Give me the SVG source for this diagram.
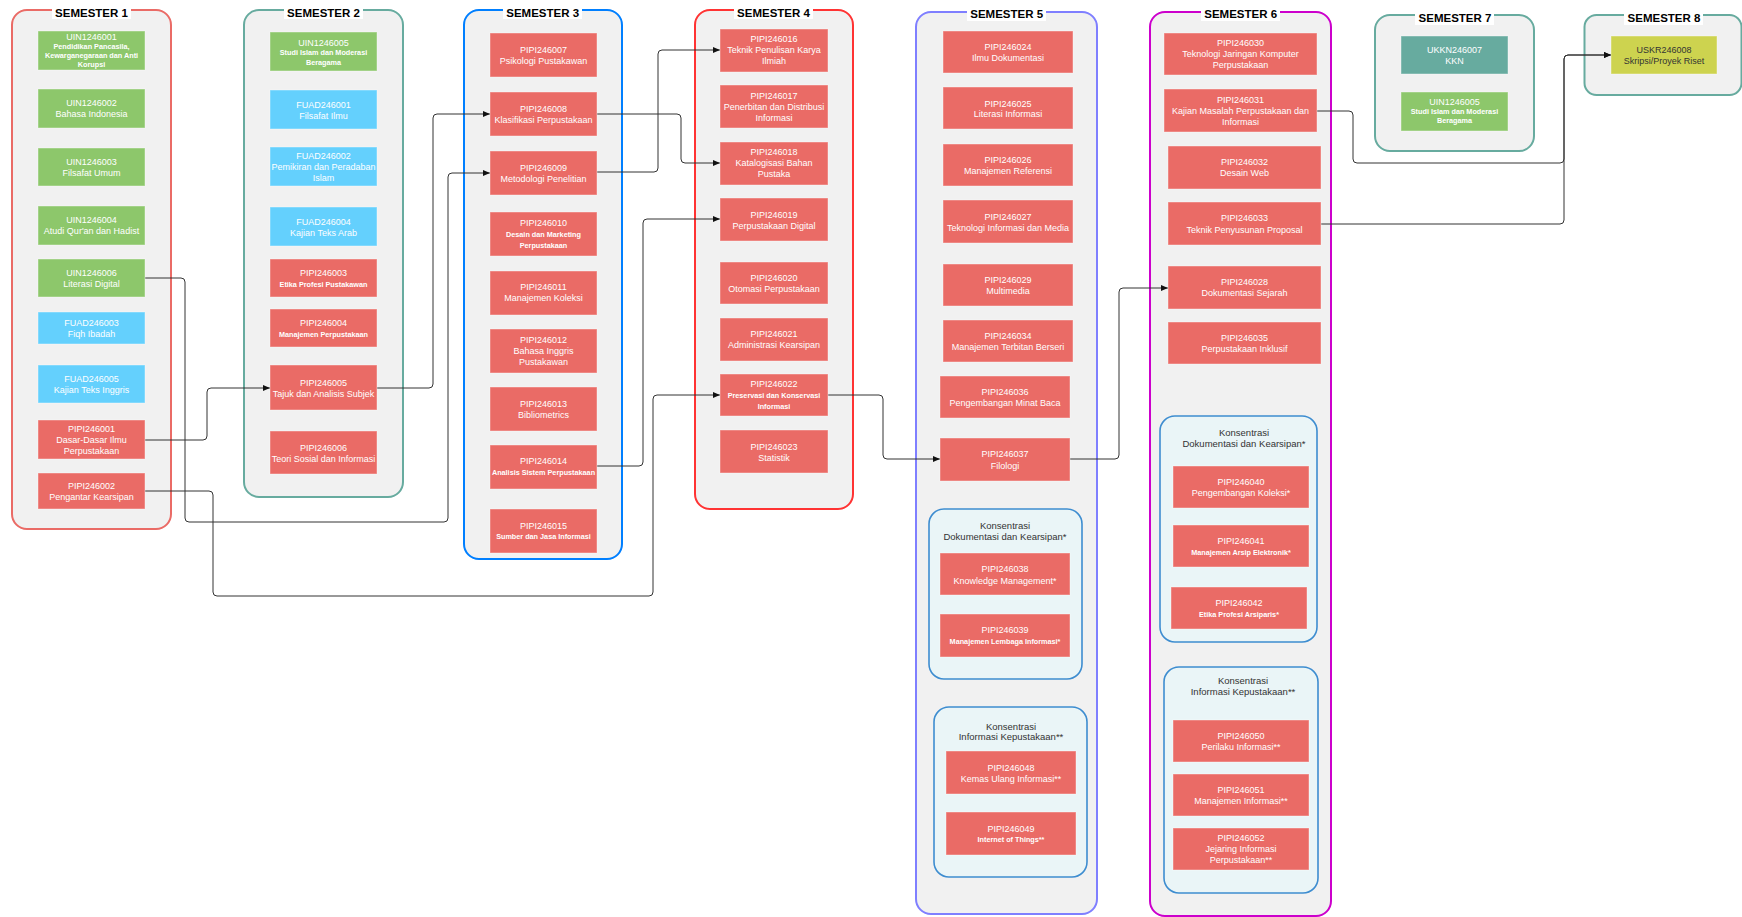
<svg xmlns="http://www.w3.org/2000/svg" width="1742" height="917" viewBox="0 0 1742 917">
<style>
.cont{fill:#F1F1F1;stroke-width:2}
.kon{fill:#EAF5F7;stroke:#3E8DD0;stroke-width:1.6}
.n rect{stroke:#ffffff;stroke-opacity:.4;stroke-width:1}
.r rect{fill:#EA6B66}
.g rect{fill:#8DC76B}
.b rect{fill:#64D0FD}
.t rect{fill:#67AB9F}
.y rect{fill:#CDD34F}
.n text{font-family:'Liberation Sans',Arial,Helvetica,sans-serif;font-size:9px;fill:#fff;text-anchor:middle}
.y text{fill:#333}
.n text .s{font-size:7.25px;font-weight:bold}
.title{font-family:'Liberation Sans',Arial,Helvetica,sans-serif;font-size:11.5px;font-weight:bold;fill:#000;text-anchor:middle}
.tbg{fill:#fff}
.kt{font-family:'Liberation Sans',Arial,Helvetica,sans-serif;font-size:9.5px;fill:#333;text-anchor:middle}
.edge{fill:none;stroke:#333;stroke-width:1}
</style>
<defs>
<marker id="ah" markerUnits="userSpaceOnUse" markerWidth="8" markerHeight="7" refX="7" refY="3" orient="auto">
<path d="M0,0 L7,3 L0,6 z" fill="#111"/>
</marker>
</defs>

<g id="semester-containers">
<g id="sem1"><rect class="cont" x="12" y="10" width="159" height="519" rx="15" stroke="#EA6B66"/><rect class="tbg" x="52" y="6" width="79" height="13"/><text class="title" x="91.5" y="16.8">SEMESTER 1</text></g>
<g id="sem2"><rect class="cont" x="244" y="10" width="159" height="487" rx="15" stroke="#67AB9F"/><rect class="tbg" x="284" y="6" width="79" height="13"/><text class="title" x="323.5" y="16.8">SEMESTER 2</text></g>
<g id="sem3"><rect class="cont" x="464" y="10" width="158" height="549" rx="15" stroke="#007FFF"/><rect class="tbg" x="503" y="6" width="79" height="13"/><text class="title" x="542.7" y="16.8">SEMESTER 3</text></g>
<g id="sem4"><rect class="cont" x="695" y="10" width="158" height="499" rx="15" stroke="#FF3333"/><rect class="tbg" x="734" y="6" width="79" height="13"/><text class="title" x="773.5" y="16.8">SEMESTER 4</text></g>
<g id="sem5"><rect class="cont" x="916" y="12" width="181" height="902" rx="15" stroke="#7F7FFF"/><rect class="tbg" x="967" y="8" width="79" height="13"/><text class="title" x="1006.7" y="18.4">SEMESTER 5</text></g>
<g id="sem6"><rect class="cont" x="1150" y="12" width="181" height="904" rx="15" stroke="#CC00CC"/><rect class="tbg" x="1201" y="8" width="79" height="13"/><text class="title" x="1240.7" y="18.4">SEMESTER 6</text></g>
<g id="sem7"><rect class="cont" x="1375" y="15" width="159" height="136" rx="15" stroke="#67AB9F"/><rect class="tbg" x="1415" y="12" width="79" height="13"/><text class="title" x="1455" y="22.4">SEMESTER 7</text></g>
<g id="sem8"><rect class="cont" x="1584.5" y="15" width="157" height="80" rx="12" stroke="#67AB9F"/><rect class="tbg" x="1624" y="12" width="79" height="13"/><text class="title" x="1664" y="22.2">SEMESTER 8</text></g>
</g>

<g id="konsentrasi">
<g id="kon5a"><rect class="kon" x="929" y="509" width="153" height="170" rx="15"/><text class="kt" x="1005" y="529.1">Konsentrasi</text><text class="kt" x="1005" y="540.1">Dokumentasi dan Kearsipan*</text></g>
<g id="kon5b"><rect class="kon" x="934" y="707" width="153" height="170" rx="15"/><text class="kt" x="1011" y="729.7">Konsentrasi</text><text class="kt" x="1011" y="740.4">Informasi Kepustakaan**</text></g>
<g id="kon6a"><rect class="kon" x="1160" y="416" width="157" height="226" rx="15"/><text class="kt" x="1244" y="436.1">Konsentrasi</text><text class="kt" x="1244" y="447.1">Dokumentasi dan Kearsipan*</text></g>
<g id="kon6b"><rect class="kon" x="1164" y="667" width="154" height="226" rx="15"/><text class="kt" x="1243" y="684.4">Konsentrasi</text><text class="kt" x="1243" y="695.1">Informasi Kepustakaan**</text></g>
</g>

<g id="connectors">
<path class="edge" marker-end="url(#ah)" d="M145,278 H181 Q185,278 185,282 V518 Q185,522 189,522 H444 Q448,522 448,518 V177 Q448,173 452,173 H490"/>
<path class="edge" marker-end="url(#ah)" d="M145,440 H203 Q207,440 207,436 V392 Q207,388 211,388 H270"/>
<path class="edge" marker-end="url(#ah)" d="M145,491 H209 Q213,491 213,495 V592 Q213,596 217,596 H649 Q653,596 653,592 V399 Q653,395 657,395 H720"/>
<path class="edge" marker-end="url(#ah)" d="M377,388 H429 Q433,388 433,384 V118 Q433,114 437,114 H490"/>
<path class="edge" marker-end="url(#ah)" d="M597,172 H654 Q658,172 658,168 V54 Q658,50 662,50 H720"/>
<path class="edge" marker-end="url(#ah)" d="M597,114 H677 Q681,114 681,118 V159 Q681,163 685,163 H720"/>
<path class="edge" marker-end="url(#ah)" d="M597,466 H639 Q643,466 643,462 V223 Q643,219 647,219 H720"/>
<path class="edge" marker-end="url(#ah)" d="M828,395 H879 Q883,395 883,399 V455 Q883,459 887,459 H940"/>
<path class="edge" marker-end="url(#ah)" d="M1070,459 H1115 Q1119,459 1119,455 V292 Q1119,288 1123,288 H1168"/>
<path class="edge" marker-end="url(#ah)" d="M1317,111 H1349 Q1353,111 1353,115 V159 Q1353,163 1357,163 H1560 Q1564,163 1564,159 V59 Q1564,55 1568,55 H1611"/>
<path class="edge" marker-end="url(#ah)" d="M1321,224 H1560 Q1564,224 1564,220 V59 Q1564,55 1568,55 H1611"/>
</g>

<g id="UIN1246001" class="n g"><rect x="38" y="31" width="107" height="39"/><text><tspan x="91.5" y="39.5">UIN1246001</tspan><tspan class="s" x="91.5" y="48.6">Pendidikan Pancasila,</tspan><tspan class="s" x="91.5" y="57.6">Kewarganegaraan dan Anti</tspan><tspan class="s" x="91.5" y="66.9">Korupsi</tspan></text></g>
<g id="UIN1246002" class="n g"><rect x="38" y="89" width="107" height="39"/><text><tspan x="91.5" y="106.2">UIN1246002</tspan><tspan x="91.5" y="117.2">Bahasa Indonesia</tspan></text></g>
<g id="UIN1246003" class="n g"><rect x="38" y="148" width="107" height="38"/><text><tspan x="91.5" y="164.9">UIN1246003</tspan><tspan x="91.5" y="175.9">Filsafat Umum</tspan></text></g>
<g id="UIN1246004" class="n g"><rect x="38" y="206" width="107" height="39"/><text><tspan x="91.5" y="223.2">UIN1246004</tspan><tspan x="91.5" y="234.2">Atudi Qur'an dan Hadist</tspan></text></g>
<g id="UIN1246006" class="n g"><rect x="38" y="259" width="107" height="38"/><text><tspan x="91.5" y="275.9">UIN1246006</tspan><tspan x="91.5" y="287.2">Literasi Digital</tspan></text></g>
<g id="FUAD246003" class="n b"><rect x="38" y="312" width="107" height="32"/><text><tspan x="91.5" y="325.9">FUAD246003</tspan><tspan x="91.5" y="336.9">Fiqh Ibadah</tspan></text></g>
<g id="FUAD246005" class="n b"><rect x="38" y="365" width="107" height="38"/><text><tspan x="91.5" y="381.5">FUAD246005</tspan><tspan x="91.5" y="392.9">Kajian Teks Inggris</tspan></text></g>
<g id="PIPI246001" class="n r"><rect x="38" y="420" width="107" height="39"/><text><tspan x="91.5" y="431.9">PIPI246001</tspan><tspan x="91.5" y="442.9">Dasar-Dasar Ilmu</tspan><tspan x="91.5" y="453.9">Perpustakaan</tspan></text></g>
<g id="PIPI246002" class="n r"><rect x="38" y="473" width="107" height="36"/><text><tspan x="91.5" y="488.9">PIPI246002</tspan><tspan x="91.5" y="500.2">Pengantar Kearsipan</tspan></text></g>

<g id="UIN1246005" class="n g"><rect x="270" y="32" width="107" height="39"/><text><tspan x="323.5" y="45.9">UIN1246005</tspan><tspan class="s" x="323.5" y="55.3">Studi Islam dan Moderasi</tspan><tspan class="s" x="323.5" y="64.6">Beragama</tspan></text></g>
<g id="FUAD246001" class="n b"><rect x="270" y="90" width="107" height="39"/><text><tspan x="323.5" y="107.5">FUAD246001</tspan><tspan x="323.5" y="118.5">Filsafat Ilmu</tspan></text></g>
<g id="FUAD246002" class="n b"><rect x="270" y="147" width="107" height="39"/><text><tspan x="323.5" y="158.9">FUAD246002</tspan><tspan x="323.5" y="169.9">Pemikiran dan Peradaban</tspan><tspan x="323.5" y="180.9">Islam</tspan></text></g>
<g id="FUAD246004" class="n b"><rect x="270" y="207" width="107" height="39"/><text><tspan x="323.5" y="224.5">FUAD246004</tspan><tspan x="323.5" y="235.5">Kajian Teks Arab</tspan></text></g>
<g id="PIPI246003" class="n r"><rect x="270" y="259" width="107" height="38"/><text><tspan x="323.5" y="275.9">PIPI246003</tspan><tspan class="s" x="323.5" y="286.6">Etika Profesi Pustakawan</tspan></text></g>
<g id="PIPI246004" class="n r"><rect x="270" y="309" width="107" height="38"/><text><tspan x="323.5" y="325.9">PIPI246004</tspan><tspan class="s" x="323.5" y="336.6">Manajemen Perpustakaan</tspan></text></g>
<g id="PIPI246005" class="n r"><rect x="270" y="365" width="107" height="45"/><text><tspan x="323.5" y="385.5">PIPI246005</tspan><tspan x="323.5" y="396.9">Tajuk dan Analisis Subjek</tspan></text></g>
<g id="PIPI246006" class="n r"><rect x="270" y="431" width="107" height="43"/><text><tspan x="323.5" y="450.5">PIPI246006</tspan><tspan x="323.5" y="461.9">Teori Sosial dan Informasi</tspan></text></g>

<g id="PIPI246007" class="n r"><rect x="490" y="33" width="107" height="44"/><text><tspan x="543.5" y="52.9">PIPI246007</tspan><tspan x="543.5" y="64.2">Psikologi Pustakawan</tspan></text></g>
<g id="PIPI246008" class="n r"><rect x="490" y="92" width="107" height="44"/><text><tspan x="543.5" y="111.9">PIPI246008</tspan><tspan x="543.5" y="123.2">Klasifikasi Perpustakaan</tspan></text></g>
<g id="PIPI246009" class="n r"><rect x="490" y="151" width="107" height="44"/><text><tspan x="543.5" y="170.5">PIPI246009</tspan><tspan x="543.5" y="181.9">Metodologi Penelitian</tspan></text></g>
<g id="PIPI246010" class="n r"><rect x="490" y="212" width="107" height="44"/><text><tspan x="543.5" y="225.9">PIPI246010</tspan><tspan class="s" x="543.5" y="236.6">Desain dan Marketing</tspan><tspan class="s" x="543.5" y="247.6">Perpustakaan</tspan></text></g>
<g id="PIPI246011" class="n r"><rect x="490" y="271" width="107" height="44"/><text><tspan x="543.5" y="290.2">PIPI246011</tspan><tspan x="543.5" y="301.2">Manajemen Koleksi</tspan></text></g>
<g id="PIPI246012" class="n r"><rect x="490" y="329" width="107" height="44"/><text><tspan x="543.5" y="342.9">PIPI246012</tspan><tspan x="543.5" y="354.2">Bahasa Inggris</tspan><tspan x="543.5" y="364.9">Pustakawan</tspan></text></g>
<g id="PIPI246013" class="n r"><rect x="490" y="387" width="107" height="44"/><text><tspan x="543.5" y="406.5">PIPI246013</tspan><tspan x="543.5" y="417.5">Bibliometrics</tspan></text></g>
<g id="PIPI246014" class="n r"><rect x="490" y="445" width="107" height="44"/><text><tspan x="543.5" y="464.2">PIPI246014</tspan><tspan class="s" x="543.5" y="475.3">Analisis Sistem Perpustakaan</tspan></text></g>
<g id="PIPI246015" class="n r"><rect x="490" y="509" width="107" height="44"/><text><tspan x="543.5" y="528.5">PIPI246015</tspan><tspan class="s" x="543.5" y="539.3">Sumber dan Jasa Informasi</tspan></text></g>

<g id="PIPI246016" class="n r"><rect x="720" y="29" width="108" height="43"/><text><tspan x="774" y="41.9">PIPI246016</tspan><tspan x="774" y="53.2">Teknik Penulisan Karya</tspan><tspan x="774" y="63.9">Ilmiah</tspan></text></g>
<g id="PIPI246017" class="n r"><rect x="720" y="85" width="108" height="43"/><text><tspan x="774" y="98.5">PIPI246017</tspan><tspan x="774" y="109.5">Penerbitan dan Distribusi</tspan><tspan x="774" y="120.5">Informasi</tspan></text></g>
<g id="PIPI246018" class="n r"><rect x="720" y="142" width="108" height="43"/><text><tspan x="774" y="154.9">PIPI246018</tspan><tspan x="774" y="166.2">Katalogisasi Bahan</tspan><tspan x="774" y="176.9">Pustaka</tspan></text></g>
<g id="PIPI246019" class="n r"><rect x="720" y="198" width="108" height="43"/><text><tspan x="774" y="217.5">PIPI246019</tspan><tspan x="774" y="228.5">Perpustakaan Digital</tspan></text></g>
<g id="PIPI246020" class="n r"><rect x="720" y="262" width="108" height="42"/><text><tspan x="774" y="280.9">PIPI246020</tspan><tspan x="774" y="291.9">Otomasi Perpustakaan</tspan></text></g>
<g id="PIPI246021" class="n r"><rect x="720" y="318" width="108" height="43"/><text><tspan x="774" y="336.9">PIPI246021</tspan><tspan x="774" y="348.2">Administrasi Kearsipan</tspan></text></g>
<g id="PIPI246022" class="n r"><rect x="720" y="374" width="108" height="42"/><text><tspan x="774" y="387.2">PIPI246022</tspan><tspan class="s" x="774" y="397.6">Preservasi dan Konservasi</tspan><tspan class="s" x="774" y="408.9">Informasi</tspan></text></g>
<g id="PIPI246023" class="n r"><rect x="720" y="430" width="108" height="43"/><text><tspan x="774" y="449.5">PIPI246023</tspan><tspan x="774" y="460.5">Statistik</tspan></text></g>

<g id="PIPI246024" class="n r"><rect x="943" y="31" width="130" height="42"/><text><tspan x="1008" y="49.9">PIPI246024</tspan><tspan x="1008" y="60.9">Ilmu Dokumentasi</tspan></text></g>
<g id="PIPI246025" class="n r"><rect x="943" y="87" width="130" height="42"/><text><tspan x="1008" y="106.5">PIPI246025</tspan><tspan x="1008" y="117.2">Literasi Informasi</tspan></text></g>
<g id="PIPI246026" class="n r"><rect x="943" y="144" width="130" height="42"/><text><tspan x="1008" y="162.9">PIPI246026</tspan><tspan x="1008" y="173.9">Manajemen Referensi</tspan></text></g>
<g id="PIPI246027" class="n r"><rect x="943" y="200" width="130" height="43"/><text><tspan x="1008" y="219.5">PIPI246027</tspan><tspan x="1008" y="230.5">Teknologi Informasi dan Media</tspan></text></g>
<g id="PIPI246029" class="n r"><rect x="943" y="264" width="130" height="42"/><text><tspan x="1008" y="283.2">PIPI246029</tspan><tspan x="1008" y="294.2">Multimedia</tspan></text></g>
<g id="PIPI246034" class="n r"><rect x="943" y="320" width="130" height="42"/><text><tspan x="1008" y="338.9">PIPI246034</tspan><tspan x="1008" y="350.2">Manajemen Terbitan Berseri</tspan></text></g>
<g id="PIPI246036" class="n r"><rect x="940" y="376" width="130" height="42"/><text><tspan x="1005" y="394.9">PIPI246036</tspan><tspan x="1005" y="406.2">Pengembangan Minat Baca</tspan></text></g>
<g id="PIPI246037" class="n r"><rect x="940" y="438" width="130" height="43"/><text><tspan x="1005" y="457.2">PIPI246037</tspan><tspan x="1005" y="468.5">Filologi</tspan></text></g>
<g id="PIPI246038" class="n r"><rect x="940" y="553" width="130" height="42"/><text><tspan x="1005" y="572.2">PIPI246038</tspan><tspan x="1005" y="583.5">Knowledge Management*</tspan></text></g>
<g id="PIPI246039" class="n r"><rect x="940" y="614" width="130" height="43"/><text><tspan x="1005" y="633.2">PIPI246039</tspan><tspan class="s" x="1005" y="644.3">Manajemen Lembaga Informasi*</tspan></text></g>
<g id="PIPI246048" class="n r"><rect x="946" y="751" width="130" height="43"/><text><tspan x="1011" y="770.5">PIPI246048</tspan><tspan x="1011" y="781.5">Kemas Ulang Informasi**</tspan></text></g>
<g id="PIPI246049" class="n r"><rect x="946" y="812" width="130" height="43"/><text><tspan x="1011" y="831.5">PIPI246049</tspan><tspan class="s" x="1011" y="842.3">Internet of Things**</tspan></text></g>

<g id="PIPI246030" class="n r"><rect x="1164" y="33" width="153" height="42"/><text><tspan x="1240.5" y="45.9">PIPI246030</tspan><tspan x="1240.5" y="56.9">Teknologi Jaringan Komputer</tspan><tspan x="1240.5" y="67.9">Perpustakaan</tspan></text></g>
<g id="PIPI246031" class="n r"><rect x="1164" y="89" width="153" height="43"/><text><tspan x="1240.5" y="102.5">PIPI246031</tspan><tspan x="1240.5" y="113.5">Kajian Masalah Perpustakaan dan</tspan><tspan x="1240.5" y="124.5">Informasi</tspan></text></g>
<g id="PIPI246032" class="n r"><rect x="1168" y="146" width="153" height="43"/><text><tspan x="1244.5" y="164.9">PIPI246032</tspan><tspan x="1244.5" y="175.9">Desain Web</tspan></text></g>
<g id="PIPI246033" class="n r"><rect x="1168" y="202" width="153" height="43"/><text><tspan x="1244.5" y="221.2">PIPI246033</tspan><tspan x="1244.5" y="232.5">Teknik Penyusunan Proposal</tspan></text></g>
<g id="PIPI246028" class="n r"><rect x="1168" y="266" width="153" height="43"/><text><tspan x="1244.5" y="284.9">PIPI246028</tspan><tspan x="1244.5" y="295.9">Dokumentasi Sejarah</tspan></text></g>
<g id="PIPI246035" class="n r"><rect x="1168" y="322" width="153" height="42"/><text><tspan x="1244.5" y="340.9">PIPI246035</tspan><tspan x="1244.5" y="351.9">Perpustakaan Inklusif</tspan></text></g>
<g id="PIPI246040" class="n r"><rect x="1173" y="466" width="136" height="42"/><text><tspan x="1241" y="485.2">PIPI246040</tspan><tspan x="1241" y="496.2">Pengembangan Koleksi*</tspan></text></g>
<g id="PIPI246041" class="n r"><rect x="1173" y="525" width="136" height="42"/><text><tspan x="1241" y="543.5">PIPI246041</tspan><tspan class="s" x="1241" y="554.6">Manajemen Arsip Elektronik*</tspan></text></g>
<g id="PIPI246042" class="n r"><rect x="1171" y="587" width="136" height="42"/><text><tspan x="1239" y="605.9">PIPI246042</tspan><tspan class="s" x="1239" y="616.6">Etika Profesi Arsiparis*</tspan></text></g>
<g id="PIPI246050" class="n r"><rect x="1173" y="720" width="136" height="42"/><text><tspan x="1241" y="738.5">PIPI246050</tspan><tspan x="1241" y="749.5">Perilaku Informasi**</tspan></text></g>
<g id="PIPI246051" class="n r"><rect x="1173" y="774" width="136" height="42"/><text><tspan x="1241" y="792.5">PIPI246051</tspan><tspan x="1241" y="803.5">Manajemen Informasi**</tspan></text></g>
<g id="PIPI246052" class="n r"><rect x="1173" y="828" width="136" height="42"/><text><tspan x="1241" y="840.5">PIPI246052</tspan><tspan x="1241" y="851.5">Jejaring Informasi</tspan><tspan x="1241" y="862.5">Perpustakaan**</tspan></text></g>

<g id="UKKN246007" class="n t"><rect x="1401" y="36" width="107" height="38"/><text><tspan x="1454.5" y="53.2">UKKN246007</tspan><tspan x="1454.5" y="64.2">KKN</tspan></text></g>
<g id="UIN1246005-s7" class="n g"><rect x="1401" y="92" width="107" height="39"/><text><tspan x="1454.5" y="104.9">UIN1246005</tspan><tspan class="s" x="1454.5" y="114.3">Studi Islam dan Moderasi</tspan><tspan class="s" x="1454.5" y="123.3">Beragama</tspan></text></g>

<g id="USKR246008" class="n y"><rect x="1611" y="36" width="106" height="38"/><text><tspan x="1664" y="53.2">USKR246008</tspan><tspan x="1664" y="64.2">Skripsi/Proyek Riset</tspan></text></g>
</svg>
